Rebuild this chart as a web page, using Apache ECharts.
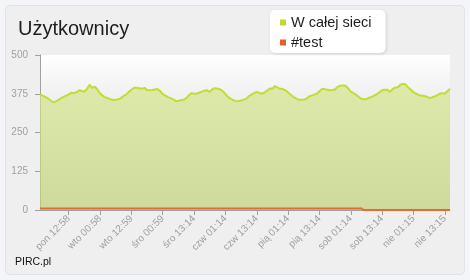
<!DOCTYPE html>
<html>
<head>
<meta charset="utf-8">
<script src="https://cdn.jsdelivr.net/npm/echarts@6/dist/echarts.min.js"></script>
<style>
  html, body { margin: 0; padding: 0; background: #f4f5f9; }
  #card { position: absolute; left: 5px; top: 5px; width: 458px; height: 268px; background: #efefef; border: 1px solid #e2e3e6; border-radius: 5px; }
  #chart { position: absolute; left: 0; top: 0; width: 470px; height: 280px; }
</style>
</head>
<body>
<div id="card"></div>
<div id="chart"></div>
<script>
// ---- data ----
const seriesNames = ['W całej sieci', '#test'];
const tickLabels = ['pon 12:58', 'wto 00:58', 'wto 12:59', 'śro 00:59', 'śro 13:14', 'czw 01:14', 'czw 13:14',
  'pią 01:14', 'pią 13:14', 'sob 01:14', 'sob 13:14', 'nie 01:15', 'nie 13:15'];
const firstTickIndex = 11;
const tickStep = 12;
const yTicks = [0, 125, 250, 375, 500];

const totalUsers = [
  373,369,365,360,354,347,350,355,360,365,
  369,373,378,377,380,386,384,382,390,404,
  394,398,388,376,369,363,361,357,355,356,
  357,361,368,372,381,388,394,394,393,391,
  394,387,386,387,389,390,384,374,369,364,
  361,357,352,352,355,356,360,370,377,375,
  375,379,382,385,386,381,390,393,391,389,
  383,374,365,359,354,352,351,353,356,359,
  367,372,377,381,378,375,379,385,392,391,
  400,395,391,390,386,379,372,365,360,356,
  356,356,359,366,369,372,375,383,390,390,
  388,386,387,389,398,401,402,401,392,382,
  377,372,365,359,357,358,362,365,369,374,
  380,386,388,388,381,390,395,396,404,407,
  405,395,388,380,375,371,369,368,366,362,
  363,366,370,375,377,375,383,391
];
const testUsers = [
  5,5,5,5,5,5,5,5,5,5,
  5,5,5,5,5,5,5,5,5,5,
  5,5,5,5,5,5,5,5,5,5,
  5,5,5,5,5,5,5,5,5,5,
  5,5,5,5,5,5,5,5,5,5,
  5,5,5,5,5,5,5,5,5,5,
  5,5,5,5,5,5,5,5,5,5,
  5,5,5,5,5,5,5,5,5,5,
  5,5,5,5,5,5,5,5,5,5,
  5,5,5,5,5,5,5,5,5,5,
  5,5,5,5,5,5,5,5,5,5,
  5,5,5,5,5,5,5,5,5,5,
  5,5,5,5,0,0,0,0,0,0,
  0,0,0,0,0,0,0,0,0,0,
  0,0,0,0,0,0,0,0,0,0,
  0,0,0,0,0,0,0,0
];

// ---- hourly category names (tick labels at their positions) ----
const days = ['pon', 'wto', 'śro', 'czw', 'pią', 'sob', 'nie'];
function catName(i) {
  const rel = i - firstTickIndex;
  let k = Math.floor(rel / tickStep);
  k = Math.max(0, Math.min(tickLabels.length - 1, k));
  const off = i - (firstTickIndex + k * tickStep);
  if (off === 0) return tickLabels[k];
  const [d, t] = tickLabels[k].split(' ');
  const [hh, mm] = t.split(':').map(Number);
  let total = days.indexOf(d) * 24 * 60 + hh * 60 + mm + off * 60;
  total = ((total % (7 * 1440)) + 7 * 1440) % (7 * 1440);
  const dd = Math.floor(total / 1440), rem = total % 1440;
  const h = Math.floor(rem / 60), m = rem % 60;
  return days[dd] + ' ' + String(h).padStart(2, '0') + ':' + String(m).padStart(2, '0') + ' ';
}
const categories = totalUsers.map((_, i) => catName(i));
const isTick = (idx) => idx >= firstTickIndex && (idx - firstTickIndex) % tickStep === 0;

const FONT = '"Liberation Sans", Arial, sans-serif';
const chart = echarts.init(document.getElementById('chart'), null, { renderer: 'canvas' });
chart.setOption({
  backgroundColor: 'transparent',
  animation: false,
  textStyle: { fontFamily: FONT },
  title: {
    text: 'Użytkownicy', left: 18, top: 19, padding: 0,
    textStyle: { fontSize: 20, fontWeight: 'normal', color: '#1e1e1e', fontFamily: FONT }
  },
  legend: {
    data: seriesNames, orient: 'vertical', left: 270, top: 10,
    padding: [5, 14, 3, 10], itemGap: 5, itemWidth: 6, itemHeight: 6,
    backgroundColor: '#ffffff', borderRadius: 5,
    shadowBlur: 3, shadowColor: 'rgba(0,0,0,0.12)', shadowOffsetX: 1, shadowOffsetY: 1,
    textStyle: { fontSize: 14.5, color: '#1e1e1e', fontFamily: FONT, lineHeight: 15 },
    icon: 'rect'
  },
  graphic: [{
    type: 'text', left: 15, top: 257,
    style: { text: 'PIRC.pl', fontSize: 10.5, fill: '#111', fontFamily: FONT }
  }],
  grid: {
    left: 40, right: 20, top: 55, bottom: 70, containLabel: false, show: true, borderWidth: 0,
    backgroundColor: new echarts.graphic.LinearGradient(0, 0, 0, 1, [
      { offset: 0, color: '#ffffff' }, { offset: 0.25, color: '#f1f1f1' }, { offset: 1, color: '#ebebeb' }
    ])
  },
  xAxis: {
    type: 'category', data: categories, boundaryGap: false,
    axisLine: { show: true, lineStyle: { color: '#a0a0a0', width: 1 } },
    axisTick: { show: true, length: 5, interval: (idx) => isTick(idx), lineStyle: { color: '#a0a0a0' } },
    axisLabel: {
      interval: (idx) => isTick(idx), rotate: 45, margin: 7, fontSize: 10, color: '#a0a0a0', fontFamily: FONT,
      formatter: (v) => v.trim()
    },
    splitLine: { show: false }
  },
  yAxis: {
    type: 'value', min: yTicks[0], max: yTicks[yTicks.length - 1], interval: yTicks[1] - yTicks[0],
    axisLine: { show: true, lineStyle: { color: '#a0a0a0', width: 1 } },
    axisTick: { show: true, length: 5, lineStyle: { color: '#a0a0a0' } },
    axisLabel: { margin: 12, fontSize: 10, color: '#a0a0a0', fontFamily: FONT },
    splitLine: { show: false }
  },
  series: [
    {
      name: seriesNames[0], type: 'line', data: totalUsers, showSymbol: false, symbol: 'none', z: 2,
      itemStyle: { color: '#bcd935' },
      lineStyle: { color: '#c0dc38', width: 2 },
      areaStyle: {
        origin: 'start',
        color: new echarts.graphic.LinearGradient(0, 0, 0, 1, [
          { offset: 0, color: '#d5e68b' }, { offset: 1, color: '#c1d37a' }
        ])
      }
    },
    {
      name: seriesNames[1], type: 'line', data: testUsers, showSymbol: false, symbol: 'none', z: 3,
      itemStyle: { color: '#e0622a' },
      lineStyle: { color: '#e26d2e', width: 2 }
    }
  ]
});
</script>
</body>
</html>
